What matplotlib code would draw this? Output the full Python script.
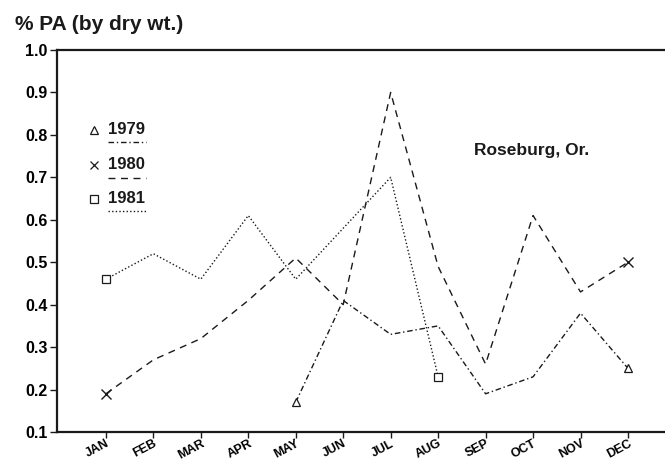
import numpy as np
import matplotlib.pyplot as plt

plt.rcParams['font.family'] = ['Liberation Sans', 'DejaVu Sans']

months = ['JAN', 'FEB', 'MAR', 'APR', 'MAY', 'JUN', 'JUL', 'AUG', 'SEP', 'OCT', 'NOV', 'DEC']
pa_1979 = [np.nan, np.nan, np.nan, np.nan, 0.17, 0.41, 0.33, 0.35, 0.19, 0.23, 0.38, 0.25]
pa_1980 = [0.19, 0.27, 0.32, 0.41, 0.51, 0.40, 0.90, 0.49, 0.26, 0.61, 0.43, 0.50]
pa_1981 = [0.46, 0.52, 0.46, 0.61, 0.46, 0.58, 0.70, 0.23, np.nan, np.nan, np.nan, np.nan]
yticks = [0.1, 0.2, 0.3, 0.4, 0.5, 0.6, 0.7, 0.8, 0.9, 1.0]

x = np.arange(len(months))
ink = '#1a1a1a'

fig = plt.figure(figsize=(6.65, 4.61), dpi=100)
ax = fig.add_axes([57 / 665, 1 - 432 / 461, 1 - 57 / 665, (432 - 50) / 461])

# 1979: dash-dot, triangles at the ends
ax.plot(x, pa_1979, color=ink, lw=1.0, dashes=(4, 2, 1, 2),
        marker='^', markevery=[4, 11], ms=5.5, mfc='white', mec=ink, mew=0.9)
# 1980: dashed, crosses at the ends
ax.plot(x, pa_1980, color=ink, lw=1.0, dashes=(5, 4),
        marker='x', markevery=[0, 11], ms=6.5, mec=ink, mew=1.0)
# 1981: dotted, squares at the ends
ax.plot(x, pa_1981, color=ink, lw=1.0, dashes=(1, 1.6),
        marker='s', markevery=[0, 7], ms=5.5, mfc='white', mec=ink, mew=0.9)

ax.set_xlim(-1.03, 11.78)
ax.set_ylim(0.1, 1.0)
ax.set_xticks(x)
ax.set_xticklabels(months, rotation=28, ha='right', va='top', rotation_mode='anchor',
                   fontsize=9, fontweight='bold')
ax.set_yticks(yticks)
ax.set_yticklabels([f'{v:.1f}' for v in yticks], fontsize=11.5, fontweight='bold')
ax.tick_params(axis='both', direction='out', length=5, width=1.0, color=ink, pad=2)
ax.tick_params(axis='x', length=4, pad=0)

for s in ['left', 'bottom', 'top']:
    ax.spines[s].set_linewidth(1.6)
    ax.spines[s].set_color(ink)
ax.spines['right'].set_visible(False)

# hand-drawn style key
key = [('1979', '^', (4, 2, 1, 2), 0.791, 0.759),
       ('1980', 'x', (5, 4), 0.699, 0.665),
       ('1981', 's', (1, 1.6), 0.610, 0.579)]
for lab, mk, ds, yy, yl in key:
    ax.plot([0.061], [yy], transform=ax.transAxes, marker=mk, ms=5.5,
            mfc='white', mec=ink, mew=0.9, ls='none', clip_on=False)
    ax.text(0.084, yy, lab, transform=ax.transAxes, ha='left', va='center',
            fontsize=12, fontweight='bold', color=ink)
    ax.plot([0.084, 0.147], [yl, yl], transform=ax.transAxes, color=ink,
            lw=1.0, dashes=ds)

ax.text(0.780, 0.738, 'Roseburg, Or.', transform=ax.transAxes, ha='center', va='center',
        fontsize=12.5, fontweight='bold', color=ink)

fig.text(15 / 665, 1 - 25 / 461, '% PA (by dry wt.)', ha='left', va='center',
         fontsize=15, fontweight='bold', color=ink)

fig.savefig('out.png', dpi=100)
